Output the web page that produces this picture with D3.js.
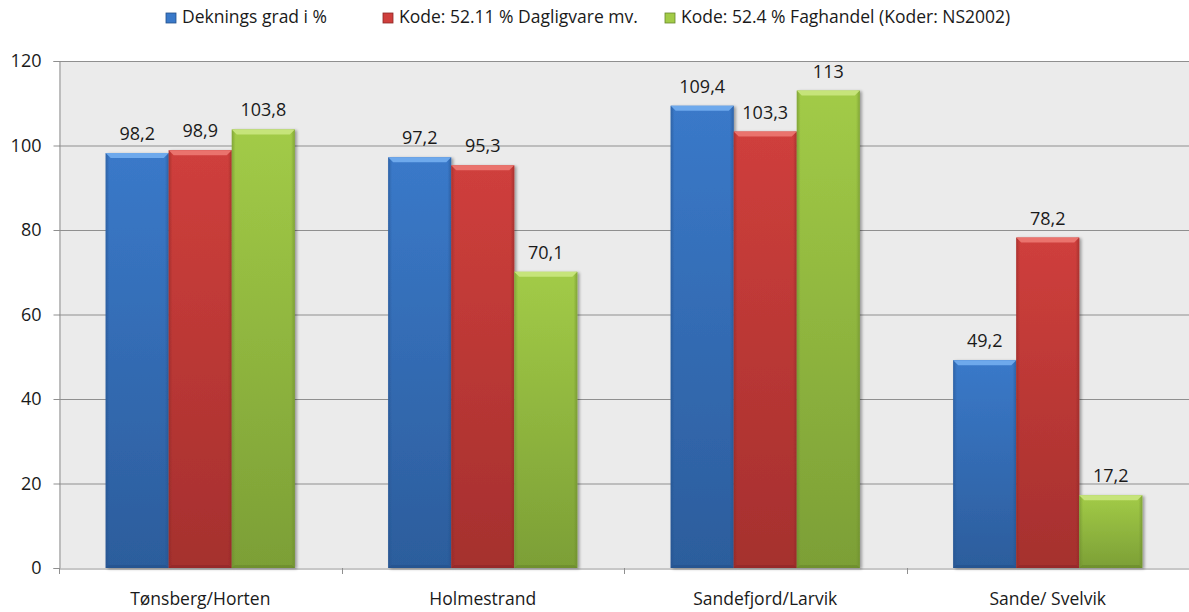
<!DOCTYPE html>
<html>
<head>
<meta charset="utf-8">
<script src="https://cdn.jsdelivr.net/npm/d3@7"></script>
<style>
  html, body { margin: 0; padding: 0; background: #fff; }
  svg text { font-family: "Open Sans", "Liberation Sans", Arial, sans-serif; }
</style>
</head>
<body>
<svg id="chart" width="1189" height="612"></svg>
<script>
// Regions and measured coverage values
const categories = ["Tønsberg/Horten", "Holmestrand", "Sandefjord/Larvik", "Sande/ Svelvik"];
const seriesNames = ["Deknings grad i %", "Kode: 52.11 % Dagligvare mv.", "Kode: 52.4 % Faghandel (Koder: NS2002)"];
const dekningsgrad = [98.2, 97.2, 109.4, 49.2];
const dagligvare = [98.9, 95.3, 103.3, 78.2];
const faghandel = [103.8, 70.1, 113, 17.2];
const yTicks = [0, 20, 40, 60, 80, 100, 120];

const seriesValues = [dekningsgrad, dagligvare, faghandel];
const palette = [
  { main: "#3a79c9", dark: "#2c5d9c", light: "#6ea9ec", edge: "#24508a" },
  { main: "#cf3f3c", dark: "#a5302e", light: "#ea736d", edge: "#8d2826" },
  { main: "#a2cb47", dark: "#7c9f36", light: "#c6e47a", edge: "#68872c" }
];

const svg = d3.select("#chart");
const plot = { left: 59, right: 1189, top: 61, bottom: 568 };

const x0 = d3.scaleBand().domain(categories).range([plot.left, plot.right]).padding(0);
const x1 = d3.scaleBand().domain(d3.range(seriesNames.length)).range([0, x0.bandwidth()])
  .paddingInner(0).paddingOuter(0.74);
const y = d3.scaleLinear().domain([0, 120]).range([plot.bottom, plot.top]);

const fmt = v => String(v).replace(".", ",");

// gradients for the bevelled bars
const defs = svg.append("defs");
palette.forEach((c, i) => {
  const g = defs.append("linearGradient").attr("id", "body" + i)
    .attr("x1", 0).attr("y1", 0).attr("x2", 0).attr("y2", 1);
  g.append("stop").attr("offset", "0%").attr("stop-color", c.main);
  g.append("stop").attr("offset", "100%").attr("stop-color", c.dark);
  const h = defs.append("linearGradient").attr("id", "side" + i)
    .attr("x1", 0).attr("y1", 0).attr("x2", 1).attr("y2", 0);
  h.append("stop").attr("offset", "0%").attr("stop-color", c.edge).attr("stop-opacity", 0.55);
  h.append("stop").attr("offset", "6%").attr("stop-color", c.edge).attr("stop-opacity", 0);
  h.append("stop").attr("offset", "94%").attr("stop-color", c.edge).attr("stop-opacity", 0);
  h.append("stop").attr("offset", "100%").attr("stop-color", c.edge).attr("stop-opacity", 0.55);
});
const shadow = defs.append("filter").attr("id", "shadow").attr("x", "-20%").attr("y", "-20%")
  .attr("width", "140%").attr("height", "140%");
shadow.append("feGaussianBlur").attr("in", "SourceAlpha").attr("stdDeviation", 1.5);
shadow.append("feOffset").attr("dx", 2).attr("dy", 1).attr("result", "b");
shadow.append("feComponentTransfer").append("feFuncA").attr("type", "linear").attr("slope", 0.35);
const merge = shadow.append("feMerge");
merge.append("feMergeNode");
merge.append("feMergeNode").attr("in", "SourceGraphic");

// plot background
svg.append("rect")
  .attr("x", plot.left).attr("y", plot.top)
  .attr("width", plot.right - plot.left).attr("height", plot.bottom - plot.top)
  .attr("fill", "#ebebeb");

// horizontal gridlines
svg.append("g").selectAll("line").data(yTicks.filter(t => t > 0)).join("line")
  .attr("x1", plot.left).attr("x2", plot.right)
  .attr("y1", d => y(d) + 0.5).attr("y2", d => y(d) + 0.5)
  .attr("stroke", "#8f8f8f").attr("stroke-width", 1);

// y axis
const yAxis = svg.append("g").attr("transform", `translate(${plot.left + 0.5},0)`)
  .call(d3.axisLeft(y).tickValues(yTicks).tickSize(6).tickPadding(12).tickFormat(d3.format("d")));
yAxis.select(".domain").attr("stroke", "#8f8f8f");
yAxis.selectAll(".tick line").attr("stroke", "#8f8f8f");
yAxis.selectAll(".tick text").attr("font-size", 18).attr("fill", "#1a1a1a");

// x axis
const xAxis = svg.append("g").attr("transform", `translate(0,${plot.bottom + 0.5})`)
  .call(d3.axisBottom(x0).tickSize(0).tickPadding(24));
xAxis.select(".domain").attr("stroke", "#8f8f8f");
xAxis.selectAll(".tick text").attr("font-size", 17.5).attr("fill", "#1a1a1a");
// category separator ticks
svg.append("g").selectAll("line").data(categories).join("line")
  .attr("x1", d => Math.round(x0(d)) + 0.5).attr("x2", d => Math.round(x0(d)) + 0.5)
  .attr("y1", plot.bottom).attr("y2", plot.bottom + 6)
  .attr("stroke", "#8f8f8f");

// bars
const bevel = 5;
const groups = svg.append("g").selectAll("g").data(categories).join("g")
  .attr("transform", d => `translate(${x0(d)},0)`);

groups.each(function (cat, ci) {
  const g = d3.select(this);
  seriesValues.forEach((vals, si) => {
    const v = vals[ci];
    const bx = x1(si), bw = x1.bandwidth();
    const top = y(v), h = y(0) - y(v);
    const c = palette[si];
    const bar = g.append("g").attr("filter", "url(#shadow)");
    bar.append("rect").attr("x", bx).attr("y", top).attr("width", bw).attr("height", h)
      .attr("fill", `url(#body${si})`);
    bar.append("rect").attr("x", bx).attr("y", top).attr("width", bw).attr("height", h)
      .attr("fill", `url(#side${si})`);
    // top bevel
    bar.append("path")
      .attr("d", `M${bx},${top} L${bx + bw},${top} L${bx + bw - bevel},${top + bevel} L${bx + bevel},${top + bevel} Z`)
      .attr("fill", c.light);
    // bottom bevel
    bar.append("path")
      .attr("d", `M${bx},${top + h} L${bx + bw},${top + h} L${bx + bw - 3},${top + h - 3} L${bx + 3},${top + h - 3} Z`)
      .attr("fill", c.edge).attr("opacity", 0.6);
    // value label
    g.append("text")
      .attr("x", bx + bw / 2).attr("y", top - 13)
      .attr("text-anchor", "middle")
      .attr("font-size", 18).attr("fill", "#1a1a1a")
      .text(fmt(v));
  });
});

// legend
const legendX = [166, 383, 665];
const legend = svg.append("g").selectAll("g").data(seriesNames).join("g")
  .attr("transform", (d, i) => `translate(${legendX[i]},13)`);
legend.append("rect").attr("width", 10).attr("height", 10)
  .attr("fill", (d, i) => palette[i].main).attr("stroke", (d, i) => palette[i].edge).attr("stroke-width", 0.8);
legend.append("text").attr("x", 16).attr("y", 10)
  .attr("font-size", 17.5).attr("fill", "#1a1a1a")
  .text(d => d);
</script>
</body>
</html>
